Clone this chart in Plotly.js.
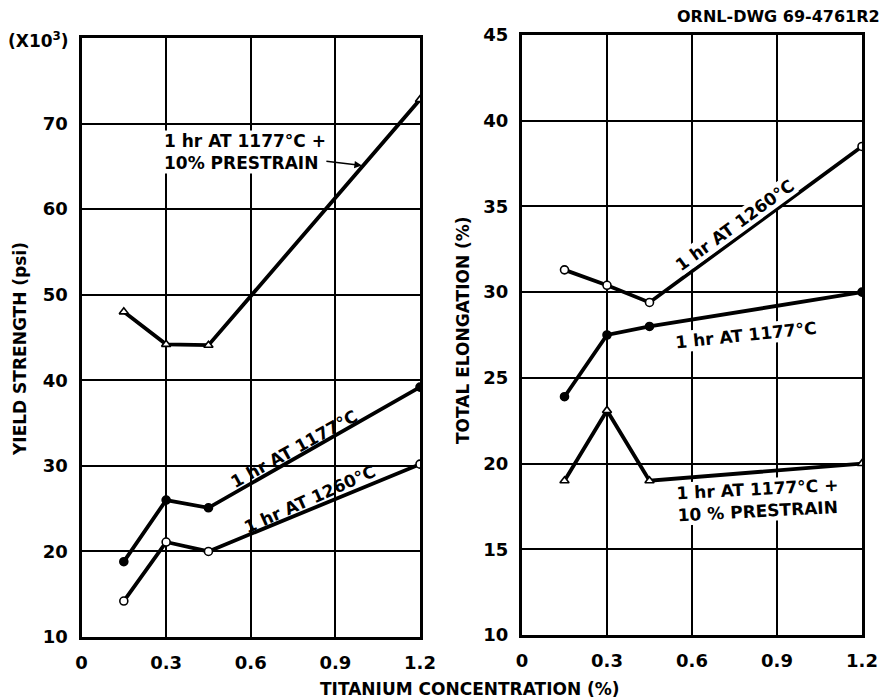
<!DOCTYPE html>
<html>
<head>
<meta charset="utf-8">
<script src="https://cdn.plot.ly/plotly-3.0.1.min.js"></script>
<style>html,body{margin:0;padding:0;background:#fff;}</style>
</head>
<body>
<div id="chart" style="width:886px;height:698px;"></div>
<script>
// Titanium concentration (%)
const titanium = [0.15, 0.3, 0.45, 1.2];
// Yield strength (x10^3 psi)
const ysPrestrain = [48.0, 44.2, 44.1, 72.8];
const ys1177 = [18.8, 26.0, 25.1, 39.2];
const ys1260 = [14.2, 21.1, 20.0, 30.2];
// Total elongation (%)
const el1260 = [31.3, 30.4, 29.4, 38.5];
const el1177 = [23.9, 27.5, 28.0, 30.0];
const elPrestrain = [19.0, 23.1, 19.0, 20.0];

const xTicks = [0, 0.3, 0.6, 0.9, 1.2];
const xTickText = ['0', '0.3', '0.6', '0.9', '1.2'];
const ysTicks = [10, 20, 30, 40, 50, 60, 70];
const elTicks = [10, 15, 20, 25, 30, 35, 40, 45];

const FONT = 'DejaVu Sans, Liberation Sans, sans-serif';
const lineW = 3.8;

function trace(x, y, xa, ya, symbol, fill) {
  return {
    x: x, y: y, xaxis: xa, yaxis: ya, type: 'scatter', mode: 'lines+markers',
    line: {color: '#000', width: lineW},
    marker: {symbol: symbol, size: 8, color: fill, line: {color: '#000', width: 1.6}},
    showlegend: false, hoverinfo: 'skip'
  };
}

const data = [
  trace(titanium, ysPrestrain, 'x', 'y', 'triangle-up', '#fff'),
  trace(titanium, ys1177, 'x', 'y', 'circle', '#000'),
  trace(titanium, ys1260, 'x', 'y', 'circle', '#fff'),
  trace(titanium, el1260, 'x2', 'y2', 'circle', '#fff'),
  trace(titanium, el1177, 'x2', 'y2', 'circle', '#000'),
  trace(titanium, elPrestrain, 'x2', 'y2', 'triangle-up', '#fff')
];

const axBase = {
  showline: true, linecolor: '#000', linewidth: 3, mirror: true,
  showgrid: true, gridcolor: '#000', gridwidth: 2,
  zeroline: false, ticks: '', automargin: false, ticklabelstandoff: 7,
  tickfont: {family: FONT, size: 18, color: '#000', weight: 'bold'}
};

const labelFont = {family: FONT, size: 17, color: '#000', weight: 'bold'};
const titleFont = {family: FONT, size: 17, color: '#000', weight: 'bold'};

const layout = {
  width: 886, height: 698,
  margin: {l: 0, r: 0, t: 0, b: 0},
  paper_bgcolor: '#fff', plot_bgcolor: '#fff',
  xaxis: Object.assign({}, axBase, {domain: [81.5/886, 420/886], range: [0, 1.2],
    tickvals: xTicks, ticktext: xTickText, anchor: 'y'}),
  yaxis: Object.assign({}, axBase, {domain: [1-637/698, 1-38/698], range: [10, 80],
    tickvals: ysTicks, anchor: 'x'}),
  xaxis2: Object.assign({}, axBase, {domain: [522/886, 862/886], range: [0, 1.2],
    tickvals: xTicks, ticktext: xTickText, anchor: 'y2'}),
  yaxis2: Object.assign({}, axBase, {domain: [1-635/698, 1-35/698], range: [10, 45],
    tickvals: elTicks, anchor: 'x2'}),
  annotations: [
    {xref: 'paper', yref: 'paper', x: 38/886, y: 1-40/698, xanchor: 'center', yanchor: 'middle',
     text: '(X10<sup>3</sup>)', showarrow: false, font: {family: FONT, size: 17, color: '#000', weight: 'bold'}},
    {xref: 'paper', yref: 'paper', x: 778/886, y: 1-17/698, xanchor: 'center', yanchor: 'middle',
     text: 'ORNL-DWG 69-4761R2', showarrow: false, font: {family: FONT, size: 16, color: '#000', weight: 'bold'}},
    {xref: 'paper', yref: 'paper', x: 20/886, y: 1-349/698, xanchor: 'center', yanchor: 'middle',
     text: 'YIELD STRENGTH (psi)', textangle: -90, showarrow: false, font: titleFont},
    {xref: 'paper', yref: 'paper', x: 463/886, y: 1-330/698, xanchor: 'center', yanchor: 'middle',
     text: 'TOTAL ELONGATION (%)', textangle: -90, showarrow: false, font: titleFont},
    {xref: 'paper', yref: 'paper', x: 470/886, y: 1-689/698, xanchor: 'center', yanchor: 'middle',
     text: 'TITANIUM CONCENTRATION (%)', showarrow: false, font: titleFont},
    // Left panel labels
    {xref: 'x', yref: 'y', x: 0.994, y: 65.1, align: 'left',
     text: '1 hr AT 1177°C +<br>10% PRESTRAIN', font: labelFont,
     showarrow: true, ax: -117, ay: -14, arrowhead: 2, arrowsize: 1, arrowwidth: 1.5,
     arrowcolor: '#000', standoff: 0, bgcolor: '#fff', borderpad: 0},
    {xref: 'x', yref: 'y', x: 0.753, y: 32.0, text: '1 hr AT 1177°C', textangle: -29,
     showarrow: false, font: labelFont},
    {xref: 'x', yref: 'y', x: 0.81, y: 26.1, text: '1 hr AT 1260°C', textangle: -24,
     showarrow: false, font: labelFont},
    // Right panel labels
    {xref: 'x2', yref: 'y2', x: 0.752, y: 33.9, text: '1 hr AT 1260°C', textangle: -36,
     showarrow: false, font: labelFont, bgcolor: '#fff', borderpad: 0},
    {xref: 'x2', yref: 'y2', x: 0.791, y: 27.5, text: '1 hr AT 1177°C', textangle: -6,
     showarrow: false, font: labelFont, bgcolor: '#fff', borderpad: 0},
    {xref: 'x2', yref: 'y2', x: 0.833, y: 17.9, text: '1 hr AT 1177°C +<br>10 % PRESTRAIN', textangle: -3,
     showarrow: false, font: labelFont, bgcolor: '#fff', borderpad: 0, align: 'left'}
  ]
};

Plotly.newPlot('chart', data, layout, {staticPlot: true, displayModeBar: false});
</script>
</body>
</html>
